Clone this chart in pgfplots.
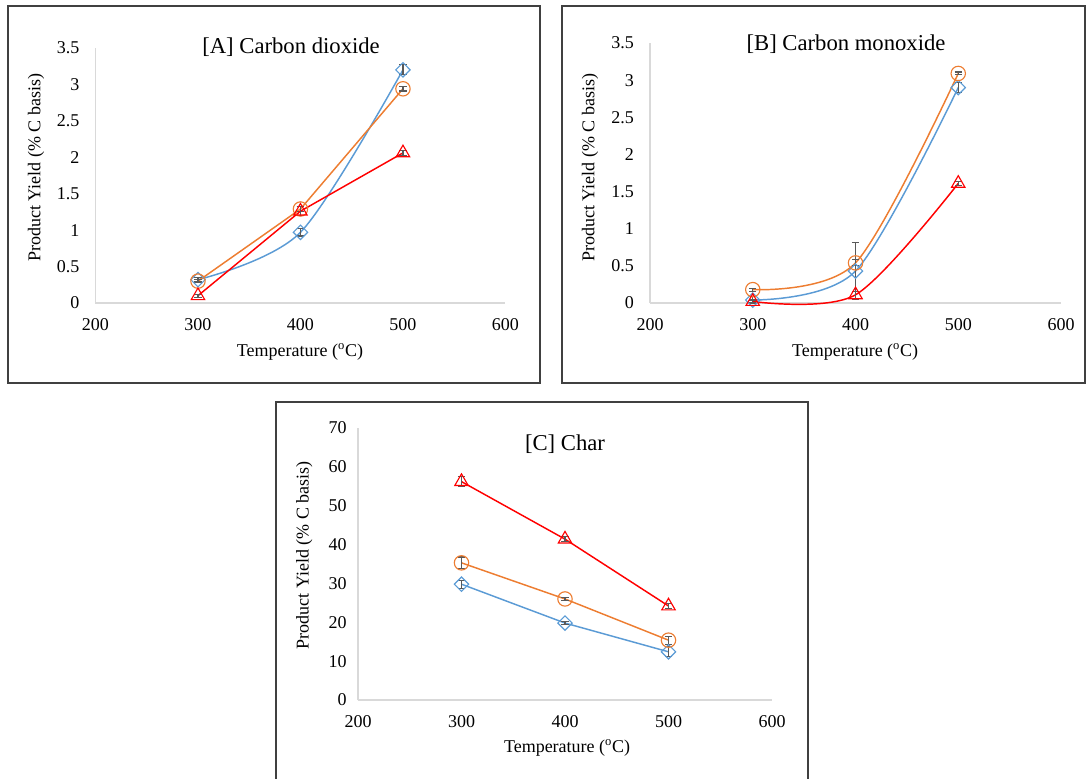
\documentclass[border=0pt]{standalone}
\usepackage{fontspec}
\setmainfont{Liberation Serif}
\usepackage{pgfplots}
\pgfplotsset{compat=1.18}
\definecolor{cblue}{HTML}{5B9BD5}
\definecolor{corange}{HTML}{ED7D31}
\definecolor{cred}{HTML}{FF0000}
\definecolor{caxis}{HTML}{D9D9D9}
\definecolor{cerr}{HTML}{595959}
\definecolor{cframe}{HTML}{404040}
\pgfplotsset{
  panel/.style={
    scale only axis,
    anchor=south west,
    axis x line*=bottom,
    axis y line*=left,
    axis line style={caxis, line width=1.1pt},
    major tick length=0pt,
    xmin=200, xmax=600, xtick={200,300,400,500,600},
    /pgf/number format/assume math mode=true,
    tick label style={font=\fontsize{13.5}{16}\selectfont},
    label style={font=\fontsize{13.5}{16}\selectfont},
    title style={font=\fontsize{17}{20}\selectfont, anchor=center},
    xticklabel style={anchor=center, yshift=-16.5pt},
    clip=false,
    xlabel={Temperature (\textsuperscript{o}C)},
    ylabel={Product Yield (\% C basis)},
    every axis plot/.append style={line width=1.1pt},
    error bars/y dir=both,
    error bars/y explicit,
    error bars/error bar style={cerr, line width=0.8pt},
    error bars/error mark options={rotate=90, cerr, mark size=2.8pt, line width=0.8pt},
  },
  sblue/.style={cblue, mark=diamond, mark size=5.4pt, mark options={solid, xscale=1.33, fill=none, line width=0.85pt}},
  sorange/.style={corange, mark=o, mark size=5.4pt, mark options={solid, fill=none, line width=0.85pt}},
  sred/.style={cred, mark=triangle, mark size=5.8pt, mark options={solid, fill=none, line width=0.85pt}},
}
\begin{document}
\begin{tikzpicture}
\useasboundingbox (0,0) rectangle (816pt,583.5pt);
\draw[cframe, line width=0.9pt] (6pt,296.25pt) rectangle (405pt,579pt);
\draw[cframe, line width=0.9pt] (421.5pt,296.25pt) rectangle (813.75pt,579pt);
\draw[cframe, line width=0.9pt] (207pt,-3pt) rectangle (606pt,282pt);

% Panel A
\begin{axis}[panel, at={(71.6pt,356.25pt)}, width=307.5pt, height=191.25pt,
  ymin=0, ymax=3.5, ytick={0,0.5,1,1.5,2,2.5,3,3.5},
  yticklabels={0,0.5,1,1.5,2,2.5,3,3.5},
  yticklabel style={anchor=east, xshift=-8.5pt},
  title={[A] Carbon dioxide},
  title style={at={(axis description cs:0.477,0.973)}},
  xlabel style={at={(axis description cs:0.499,-0.192)}, anchor=center},
  ylabel style={at={(axis description cs:-0.145,0.53)}, anchor=center},
]
\addplot[sblue, smooth] coordinates {(300,0.32) +- (0,0.03) (400,0.97) +- (0,0.05) (500,3.20) +- (0,0.07)};
\addplot[sorange] coordinates {(300,0.30) +- (0,0.02) (400,1.29) +- (0,0.03) (500,2.94) +- (0,0.03)};
\addplot[sred] coordinates {(300,0.10) +- (0,0.02) (400,1.26) +- (0,0.06) (500,2.06) +- (0,0.03)};
\end{axis}

% Panel B
\begin{axis}[panel, at={(487.5pt,356.25pt)}, width=308.25pt, height=195pt,
  ymin=0, ymax=3.5, ytick={0,0.5,1,1.5,2,2.5,3,3.5},
  yticklabels={0,0.5,1,1.5,2,2.5,3,3.5},
  yticklabel style={anchor=east, xshift=-8.5pt},
  title={[B] Carbon monoxide},
  title style={at={(axis description cs:0.477,0.965)}},
  xlabel style={at={(axis description cs:0.499,-0.188)}, anchor=center},
  ylabel style={at={(axis description cs:-0.146,0.52)}, anchor=center},
]
\addplot[sblue, smooth] coordinates {(300,0.04) +- (0,0.05) (400,0.43) +- (0,0.38) (500,2.90) +- (0,0.07)};
\addplot[sorange, smooth] coordinates {(300,0.18) +- (0,0.02) (400,0.54) +- (0,0.04) (500,3.09) +- (0,0.02)};
\addplot[sred, smooth] coordinates {(300,0.02) +- (0,0.02) (400,0.11) +- (0,0.05) (500,1.61) +- (0,0.03)};
\end{axis}

% Panel C
\begin{axis}[panel, at={(268.5pt,58.5pt)}, width=310.5pt, height=204pt,
  ymin=0, ymax=70, ytick={0,10,20,30,40,50,60,70},
  yticklabel style={anchor=east, xshift=-5pt},
  title={[C] Char},
  title style={at={(axis description cs:0.5,0.912)}},
  xlabel style={at={(axis description cs:0.505,-0.176)}, anchor=center},
  ylabel style={at={(axis description cs:-0.13,0.533)}, anchor=center},
]
\addplot[sblue] coordinates {(300,29.8) +- (0,1.0) (400,19.8) +- (0,0.4) (500,12.4) +- (0,1.3)};
\addplot[sorange] coordinates {(300,35.3) +- (0,1.5) (400,26.0) +- (0,0.4) (500,15.4) +- (0,1.0)};
\addplot[sred] coordinates {(300,56.2) +- (0,1.3) (400,41.4) +- (0,0.6) (500,24.2) +- (0,0.7)};
\end{axis}
\end{tikzpicture}
\end{document}
